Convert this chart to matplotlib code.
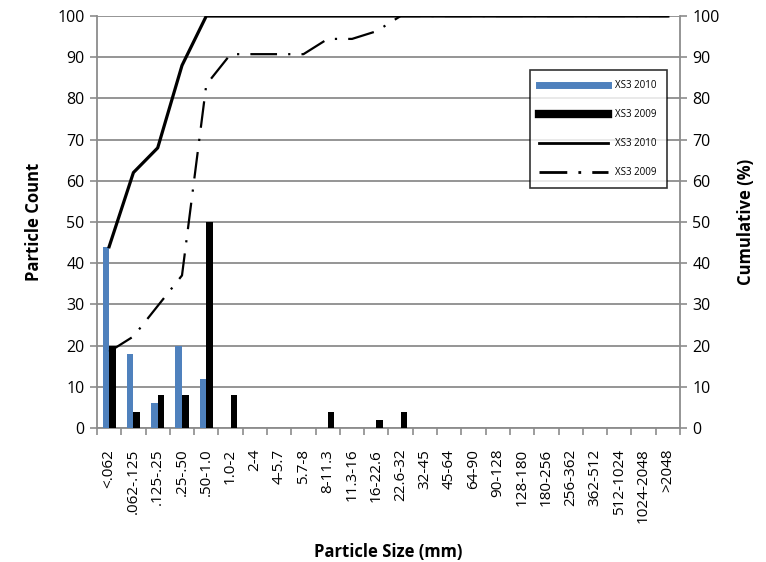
import matplotlib
matplotlib.use("Agg")
import matplotlib.pyplot as plt
from matplotlib.lines import Line2D
import numpy as np

categories = ["<.062", ".062-.125", ".125-.25", ".25-.50", ".50-1.0", "1.0-2", "2-4",
              "4-5.7", "5.7-8", "8-11.3", "11.3-16", "16-22.6", "22.6-32", "32-45",
              "45-64", "64-90", "90-128", "128-180", "180-256", "256-362", "362-512",
              "512-1024", "1024-2048", ">2048"]
count_2010 = [44, 18, 6, 20, 12, 0, 0, 0, 0, 0, 0, 0, 0, 0, 0, 0, 0, 0, 0, 0, 0, 0, 0, 0]
count_2009 = [20, 4, 8, 8, 50, 8, 0, 0, 0, 4, 0, 2, 4, 0, 0, 0, 0, 0, 0, 0, 0, 0, 0, 0]

cum_2010 = np.cumsum(count_2010) / np.sum(count_2010) * 100
cum_2009 = np.cumsum(count_2009) / np.sum(count_2009) * 100

plt.rcParams["font.family"] = ["Open Sans", "DejaVu Sans"]

fig = plt.figure(figsize=(7.66, 5.62), dpi=100)
ax = fig.add_axes([0.1266, 0.2384, 0.7611, 0.7331])
ax2 = ax.twinx()

grid_c = "#8c8c8c"
x = np.arange(len(categories))
w = 0.27
ax.bar(x - w / 2, count_2010, width=w, color="#4f81bd", zorder=3, label="XS3 2010")
ax.bar(x + w / 2, count_2009, width=w, color="black", zorder=3, label="XS3 2009")

ax.set_xlim(-0.5, len(categories) - 0.5)
ax.set_ylim(0, 100)
ax.set_yticks(np.arange(0, 101, 10))
ax.yaxis.grid(True, color=grid_c, linewidth=1.3, zorder=0)
ax.set_axisbelow(True)

ax2.plot(x, cum_2010, color="black", linewidth=2.3, label="XS3 2010")
ax2.plot(x, cum_2009, color="black", linewidth=1.6, label="XS3 2009",
         dashes=(12, 5, 1, 5))
ax2.set_ylim(0, 100)
ax2.set_yticks(np.arange(0, 101, 10))

ax.set_xticks(np.arange(len(categories) + 1) - 0.5, minor=False)
ax.set_xticklabels([])
ax.set_xticks(x, minor=True)
ax.set_xticklabels(categories, minor=True, rotation=90, fontsize=11)
ax.tick_params(axis="x", which="minor", length=0, pad=15)
ax.tick_params(axis="x", which="major", length=5, color=grid_c, width=1.2)

for a in (ax, ax2):
    a.tick_params(axis="y", length=5, color=grid_c, width=1.2, labelsize=11.5, pad=4)
    for s in a.spines.values():
        s.set_visible(False)
ax.spines["left"].set_visible(True)
ax.spines["left"].set_color(grid_c)
ax.spines["left"].set_linewidth(1.3)
ax.spines["bottom"].set_visible(True)
ax.spines["bottom"].set_color(grid_c)
ax.spines["bottom"].set_linewidth(1.3)
ax2.spines["right"].set_visible(True)
ax2.spines["right"].set_color(grid_c)
ax2.spines["right"].set_linewidth(1.3)

ax.set_ylabel("Particle Count", fontsize=12, fontweight="bold", labelpad=10)
ax2.set_ylabel("Cumulative (%)", fontsize=12, fontweight="bold", rotation=90, labelpad=12)
ax.set_xlabel("Particle Size (mm)", fontsize=12, fontweight="bold", labelpad=14)

handles = [Line2D([], [], color="#4f81bd", linewidth=5),
           Line2D([], [], color="black", linewidth=6),
           Line2D([], [], color="black", linewidth=2),
           Line2D([], [], color="black", linewidth=2, dashes=(10, 4, 1, 4))]
labels = ["XS3 2010", "XS3 2009", "XS3 2010", "XS3 2009"]
leg = ax2.legend(handles, labels, loc="upper left", bbox_to_anchor=(0.734, 0.88),
                 fontsize=7, frameon=True, fancybox=False, handlelength=7,
                 labelspacing=1.85, borderpad=1.0, handletextpad=0.8)
leg.get_frame().set_edgecolor("black")
leg.get_frame().set_linewidth(1.2)

fig.savefig("out.png", dpi=100)
